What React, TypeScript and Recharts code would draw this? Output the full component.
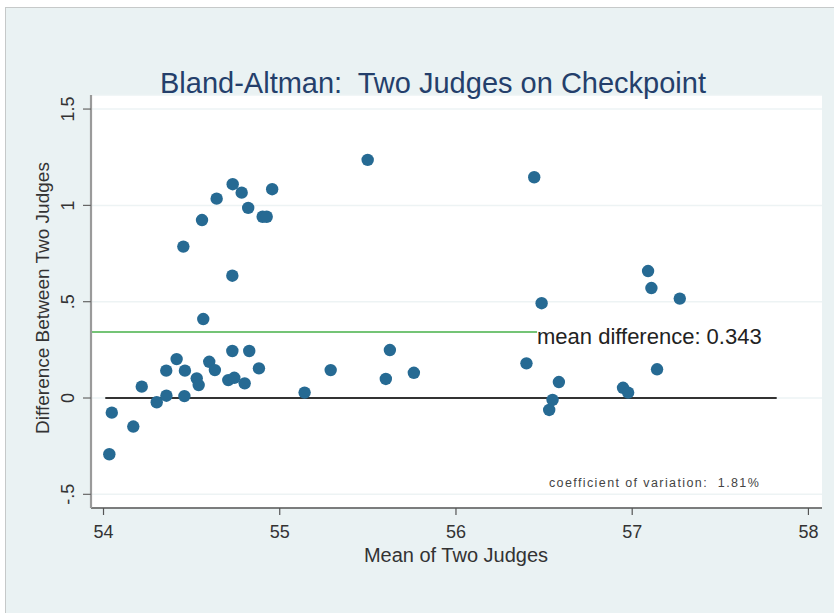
import React from 'react';
import {
  ScatterChart,
  Scatter,
  XAxis,
  YAxis,
  CartesianGrid,
  ReferenceLine,
  ReferenceDot,
  Customized,
} from 'recharts';

// Mean of the two judges (x) and difference between them (y)
const meanValues = [
  54.033, 54.047, 54.169, 54.217, 54.302, 54.357, 54.356, 54.415, 54.453, 54.459,
  54.462, 54.529, 54.54, 54.559, 54.566, 54.6, 54.632, 54.642, 54.708, 54.733,
  54.731, 54.731, 54.742, 54.784, 54.801, 54.821, 54.827, 54.882, 54.903, 54.926,
  54.957, 55.141, 55.289, 55.499, 55.602, 55.625, 55.761, 56.4, 56.444, 56.486,
  56.529, 56.548, 56.584, 56.948, 56.977, 57.09, 57.109, 57.141, 57.27,
];
const diffValues = [
  -0.292, -0.076, -0.148, 0.059, -0.022, 0.012, 0.142, 0.202, 0.786, 0.01,
  0.142, 0.102, 0.067, 0.924, 0.41, 0.188, 0.145, 1.035, 0.093, 1.11,
  0.635, 0.244, 0.105, 1.066, 0.076, 0.987, 0.244, 0.154, 0.941, 0.941,
  1.084, 0.028, 0.145, 1.236, 0.099, 0.249, 0.131, 0.18, 1.146, 0.492,
  -0.062, -0.01, 0.083, 0.053, 0.028, 0.659, 0.571, 0.149, 0.516,
];

const xTicks = [54, 55, 56, 57, 58];
const yTicks = [-0.5, 0, 0.5, 1, 1.5];
const yTickLabels = ['-.5', '0', '.5', '1', '1.5'];

const meanDifference = 0.343;
const meanLineRange = [53.929, 56.46];
const zeroLineRange = [54.01, 57.82];
const meanLabelText = 'mean difference: 0.343';
const cvLabelText = 'coefficient of variation:  1.81%';
const cvLabelPos = { x: 57.127, y: -0.462 };

const titleText = 'Bland-Altman:  Two Judges on Checkpoint';
const xTitle = 'Mean of Two Judges';
const yTitle = 'Difference Between Two Judges';

const data = meanValues.map((m, i) => ({ x: m, y: diffValues[i] }));

const FONT = '"Liberation Sans", Arial, Helvetica, sans-serif';
const TEXT = '#333333';
const PRE = { whiteSpace: 'pre' as const };

const XTick = (props: any) => {
  const { x, y, payload } = props;
  return (
    <text x={x} y={y + 21} textAnchor="middle" fontSize={18} fill={TEXT} fontFamily={FONT}>
      {String(payload.value)}
    </text>
  );
};

const YTick = (props: any) => {
  const { x, y, payload } = props;
  const idx = yTicks.indexOf(payload.value);
  const label = idx >= 0 ? yTickLabels[idx] : String(payload.value);
  const tx = x - 7;
  return (
    <text
      x={tx}
      y={y}
      transform={`rotate(-90, ${tx}, ${y})`}
      textAnchor="middle"
      fontSize={18}
      fill={TEXT}
      fontFamily={FONT}
    >
      {label}
    </text>
  );
};

const Titles = () => (
  <g>
    <text
      x={433}
      y={93}
      textAnchor="middle"
      fontSize={29}
      fill="#243f6b"
      fontFamily={FONT}
      style={PRE}
    >
      {titleText}
    </text>
    <text x={456} y={562} textAnchor="middle" fontSize={20} fill={TEXT} fontFamily={FONT}>
      {xTitle}
    </text>
    <text
      x={49}
      y={298}
      transform="rotate(-90, 49, 298)"
      textAnchor="middle"
      fontSize={19}
      fill={TEXT}
      fontFamily={FONT}
    >
      {yTitle}
    </text>
  </g>
);

const MeanLabel = (props: any) => {
  const vb = props.viewBox || {};
  return (
    <text x={vb.x} y={vb.y + 12} textAnchor="start" fontSize={22} fill="#222" fontFamily={FONT}>
      {meanLabelText}
    </text>
  );
};

const CvLabel = (props: any) => {
  const vb = props.viewBox || {};
  return (
    <text
      x={vb.x}
      y={vb.y}
      textAnchor="middle"
      fontSize={12.5}
      letterSpacing={1.4}
      fill="#444"
      fontFamily={FONT}
      style={PRE}
    >
      {cvLabelText}
    </text>
  );
};

const Dot = (props: any) => {
  const { cx, cy } = props;
  if (cx == null || cy == null) return null;
  return <circle cx={cx} cy={cy} r={6.2} fill="#266a93" />;
};

export default function App() {
  return (
    <div
      style={{
        position: 'absolute',
        left: 0,
        top: 0,
        width: 834,
        height: 613,
        background: '#ffffff',
        overflow: 'hidden',
      }}
    >
      <div
        style={{
          position: 'absolute',
          left: 5,
          top: 7,
          width: 840,
          height: 620,
          background: '#eaf2f3',
          border: '1px solid #c6c9c9',
        }}
      />
      <div style={{ position: 'absolute', left: 0, top: 0 }}>
        <ScatterChart
          width={834}
          height={613}
          margin={{ top: 95, right: 12, bottom: 0, left: 0 }}
        >
          <CartesianGrid
            fill="#ffffff"
            vertical={false}
            stroke="#edf3f4"
            strokeWidth={1.5}
          />
          <XAxis
            type="number"
            dataKey="x"
            domain={[53.929, 58.077]}
            ticks={xTicks}
            height={105}
            allowDataOverflow
            tickSize={7}
            tickLine={{ stroke: '#555', strokeWidth: 1.2 }}
            axisLine={{ stroke: '#555', strokeWidth: 1.5 }}
            tick={<XTick />}
            interval={0}
          />
          <YAxis
            type="number"
            dataKey="y"
            domain={[-0.571, 1.573]}
            ticks={yTicks}
            width={91}
            allowDataOverflow
            tickSize={8}
            tickLine={{ stroke: '#666', strokeWidth: 1.2 }}
            axisLine={{ stroke: '#9a9a9a', strokeWidth: 2.2 }}
            tick={<YTick />}
            interval={0}
          />
          <ReferenceLine
            segment={[
              { x: meanLineRange[0], y: meanDifference },
              { x: meanLineRange[1], y: meanDifference },
            ]}
            stroke="#74c476"
            strokeWidth={2}
            ifOverflow="visible"
          />
          <ReferenceLine
            segment={[
              { x: zeroLineRange[0], y: 0 },
              { x: zeroLineRange[1], y: 0 },
            ]}
            stroke="#333333"
            strokeWidth={2}
            ifOverflow="visible"
          />
          <Scatter data={data} shape={<Dot />} isAnimationActive={false} />
          <ReferenceDot
            x={meanLineRange[1]}
            y={meanDifference}
            r={0}
            fill="none"
            stroke="none"
            ifOverflow="visible"
            label={<MeanLabel />}
          />
          <ReferenceDot
            x={cvLabelPos.x}
            y={cvLabelPos.y}
            r={0}
            fill="none"
            stroke="none"
            ifOverflow="visible"
            label={<CvLabel />}
          />
          <Customized component={<Titles />} />
        </ScatterChart>
      </div>
    </div>
  );
}
